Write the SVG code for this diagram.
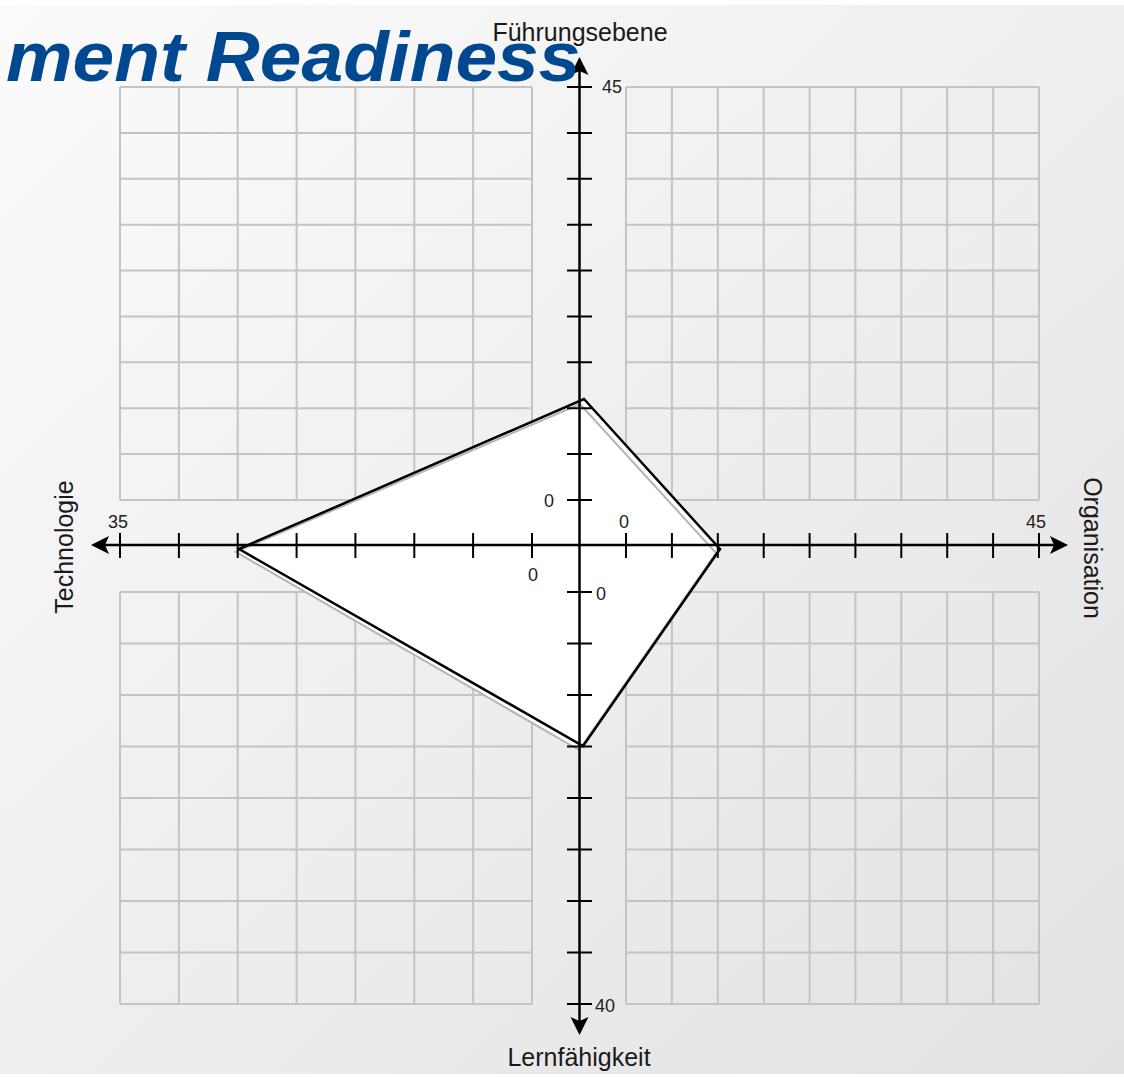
<svg xmlns="http://www.w3.org/2000/svg" width="1124" height="1077" viewBox="0 0 1124 1077">
<defs>
<linearGradient id="bg" x1="0" y1="0" x2="1" y2="1">
<stop offset="0" stop-color="#fbfbfb"/>
<stop offset="1" stop-color="#e2e2e2"/>
</linearGradient>
<path id="ah" d="M0,0 L-18,-9 L-14,0 L-18,9 Z"/>
</defs>
<style>
.grid{fill:none;stroke:#c4c4c4;stroke-width:2}
.axis{fill:none;stroke:#000;stroke-width:2.5}
.tick{fill:none;stroke:#000;stroke-width:2}
.lbl{font-family:"Liberation Sans",Arial,sans-serif;font-size:25px;fill:#1a1a1a}
.num{font-family:"Liberation Sans",Arial,sans-serif;font-size:18px;fill:#222}
.title{font-family:"Liberation Sans",Arial,sans-serif;font-size:70px;font-weight:bold;font-style:italic;fill:#004990}
</style>
<rect x="0" y="0" width="1124" height="1077" fill="#ffffff"/>
<rect x="0" y="5" width="1124" height="1069" fill="url(#bg)"/>
<g id="grid">
<path class="grid" d="M120,87V500M178.9,87V500M237.7,87V500M296.6,87V500M355.4,87V500M414.3,87V500M473.1,87V500M532,87V500
M120,87H532M120,132.9H532M120,178.8H532M120,224.7H532M120,270.6H532M120,316.4H532M120,362.3H532M120,408.2H532M120,454.1H532M120,500H532"/>
<path class="grid" d="M626,87V500M671.9,87V500M717.8,87V500M763.7,87V500M809.6,87V500M855.4,87V500M901.3,87V500M947.2,87V500M993.1,87V500M1039,87V500
M626,87H1039M626,132.9H1039M626,178.8H1039M626,224.7H1039M626,270.6H1039M626,316.4H1039M626,362.3H1039M626,408.2H1039M626,454.1H1039M626,500H1039"/>
<path class="grid" d="M120,592V1004M178.9,592V1004M237.7,592V1004M296.6,592V1004M355.4,592V1004M414.3,592V1004M473.1,592V1004M532,592V1004
M120,592H532M120,643.5H532M120,695H532M120,746.5H532M120,798H532M120,849.5H532M120,901H532M120,952.5H532M120,1004H532"/>
<path class="grid" d="M626,592V1004M671.9,592V1004M717.8,592V1004M763.7,592V1004M809.6,592V1004M855.4,592V1004M901.3,592V1004M947.2,592V1004M993.1,592V1004M1039,592V1004
M626,592H1039M626,643.5H1039M626,695H1039M626,746.5H1039M626,798H1039M626,849.5H1039M626,901H1039M626,952.5H1039M626,1004H1039"/>
</g>
<g id="data">
<polygon points="584,399 720,549 583,746 239,549" fill="#fff"/>
<polygon points="580,404 716,553 579,750 236,552" fill="#fff" stroke="#b4b4b4" stroke-width="2"/>
</g>
<g id="axes">
<path class="axis" d="M579.5,62V1030M96,545H1063"/>
<path class="tick" d="M567,87H592M567,132.9H592M567,178.8H592M567,224.7H592M567,270.6H592M567,316.4H592M567,362.3H592M567,408.2H592M567,454.1H592M567,500H592
M567,592H592M567,643.5H592M567,695H592M567,746.5H592M567,798H592M567,849.5H592M567,901H592M567,952.5H592M567,1004H592"/>
<path class="tick" d="M120,533V558M178.9,533V558M237.7,533V558M296.6,533V558M355.4,533V558M414.3,533V558M473.1,533V558M532,533V558
M626,533V558M671.9,533V558M717.8,533V558M763.7,533V558M809.6,533V558M855.4,533V558M901.3,533V558M947.2,533V558M993.1,533V558M1039,533V558"/>
<use href="#ah" transform="translate(1068,545)"/>
<use href="#ah" transform="translate(91,545) rotate(180)"/>
<use href="#ah" transform="translate(579.5,57) rotate(-90)"/>
<use href="#ah" transform="translate(579.5,1035) rotate(90)"/>
</g>
<g id="outline">
<polygon points="584,399 720,549 583,746 239,549" fill="none" stroke="#000" stroke-width="2.5" stroke-linejoin="miter"/>
</g>
<g id="scale-labels">
<text class="num" x="602" y="93">45</text>
<text class="num" x="118" y="528" text-anchor="middle">35</text>
<text class="num" x="1036" y="528" text-anchor="middle">45</text>
<text class="num" x="595" y="1012">40</text>
<text class="num" x="549" y="507" text-anchor="middle">0</text>
<text class="num" x="624" y="528" text-anchor="middle">0</text>
<text class="num" x="533" y="581" text-anchor="middle">0</text>
<text class="num" x="601" y="600" text-anchor="middle">0</text>
</g>
<g id="axis-labels">
<text class="lbl" x="580" y="41" text-anchor="middle">Führungsebene</text>
<text class="lbl" x="579" y="1066" text-anchor="middle">Lernfähigkeit</text>
<text class="lbl" transform="translate(73,547) rotate(-90)" text-anchor="middle">Technologie</text>
<text class="lbl" transform="translate(1084,548) rotate(90)" text-anchor="middle">Organisation</text>
</g>
<g id="title">
<text class="title" transform="translate(6,81) scale(1.07,1)">ment Readiness</text>
</g>
</svg>
